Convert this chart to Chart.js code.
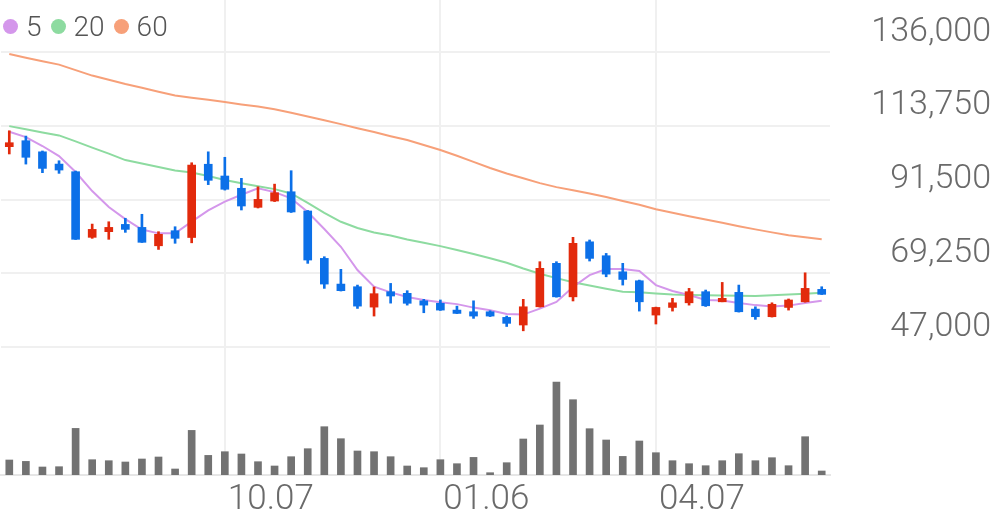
<!DOCTYPE html>
<html>
<head>
<meta charset="utf-8">
<script src="https://cdn.jsdelivr.net/npm/chart.js@4.4.1/dist/chart.umd.min.js"></script>
<style>
  html, body { margin: 0; padding: 0; background: #fff; }
  #wrap { position: relative; width: 996px; height: 519px; }
  #legend {
    position: absolute; left: 3px; top: 10px;
    display: flex; align-items: center;
    font-family: Roboto, sans-serif; font-weight: 300; font-size: 28px; color: #555;
  }
  #legend .item { display: flex; align-items: center; margin-right: 9px; }
  #legend .dot { width: 15px; height: 15px; border-radius: 50%; margin-right: 8px; }
</style>
</head>
<body>
<div id="wrap">
  <canvas id="chart" width="996" height="519"></canvas>
  <div id="legend"></div>
</div>
<script>
// ---------- data (weekly candles) ----------
const weeks = [
  '07.08','07.15','07.22','07.29','08.05','08.12','08.19','08.26','09.02','09.09',
  '09.16','09.23','09.30','10.07','10.14','10.21','10.28','11.04','11.11','11.18',
  '11.25','12.02','12.09','12.16','12.23','12.30','01.06','01.13','01.20','01.27',
  '02.03','02.10','02.17','02.24','03.03','03.10','03.17','03.24','03.31','04.07',
  '04.14','04.21','04.28','05.05','05.12','05.19','05.26','06.02','06.09','06.16'
];
const openPrices = [
  107450,109250,105900,102200,99900,80100,81800,84000,83100,77550,
  82100,80050,102150,98600,94900,89150,91050,93850,88050,73750,
  66000,65200,59050,63700,63200,60950,60200,58150,57650,57650,
  55950,53650,59150,72250,62150,78750,74550,69700,67000,56650,
  58950,60350,63700,60650,63500,58450,56150,58950,60650,64400
];
const highPrices = [
  112250,110650,106150,103200,100100,84100,84800,85850,87050,81800,
  83300,102600,105900,104250,97900,95350,96150,100200,88200,74250,
  70450,65700,65100,66200,64000,61400,61200,59350,60950,57950,
  56350,61400,72750,72750,80100,79300,75250,72250,67200,59050,
  61700,64700,64200,66500,65700,59150,60350,61500,69400,65200
];
const lowPrices = [
  105250,102200,99600,99400,79450,79800,79500,81600,78550,76450,
  78300,78450,96000,94350,88350,88950,90900,87600,72250,64700,
  63900,58650,56350,60250,59650,57350,58050,57100,55650,56200,
  53200,51900,59050,62050,60900,72950,68200,65700,57850,53950,
  57850,59650,59250,60650,57550,55350,56050,58150,60550,62850
];
const closePrices = [
  108650,104250,100900,100400,79500,82500,83100,82500,78600,81000,
  79800,101900,97300,94600,89550,91550,93550,87750,73250,66000,
  64000,59350,63100,62400,60200,59650,58150,57150,56350,56350,
  54150,59150,70750,62150,78300,73750,69000,67400,60650,58950,
  60350,63700,59450,61700,57650,56150,59900,61200,64700,62900
];
const volumes = [
  300000,272000,160000,166000,932000,306000,286000,260000,320000,360000,
  120000,892000,392000,466000,420000,266000,180000,366000,526000,966000,
  726000,480000,466000,366000,180000,146000,306000,226000,352000,46000,
  246000,720000,1000000,1860000,1506000,926000,700000,372000,680000,446000,
  286000,226000,186000,286000,426000,286000,346000,186000,766000,80000
];
const ma5 = [
  111950,110350,107650,104600,99800,94050,89250,85600,82450,81300,
  81300,84850,88250,90850,92950,94900,93750,91850,87750,82600,
  77250,70250,65200,63500,62100,61200,60500,59950,58900,58100,
  56950,56800,58600,60600,65100,68700,70550,70550,69950,65700,
  63900,62700,61200,61050,60300,59650,59200,59500,60300,60950
];
const ma20 = [
  113650,112700,111750,110850,109050,107150,105350,103400,102400,101300,
  100250,99650,98600,97400,96400,95500,94650,93350,90500,87500,
  84800,82900,81550,80650,79450,78450,77450,76300,75050,73800,
  72450,70700,69100,67800,66550,65600,64600,63700,63500,63150,
  62850,62700,62600,62550,62450,62400,62650,62850,63100,63400
];
const ma60 = [
  135400,134300,133250,132200,130550,128900,127650,126350,125200,124000,
  122900,122200,121600,120950,120200,119550,118750,117700,116550,115400,
  114250,113000,111850,110600,109450,107950,106450,104700,102850,101000,
  99350,97900,96450,95250,94300,93350,92250,91050,89950,88600,
  87500,86450,85450,84500,83450,82500,81600,80700,80100,79500
];
const priceTicks = [47000, 69250, 91500, 113750, 136000];
const dateTicks = ['10.07', '01.06', '04.07'];

// ---------- styles ----------
const UP = '#e22a0c';
const DOWN = '#0c70e8';
const GRID = '#f0f0f0';
const LABEL_COLOR = '#6a6a6a';

const candleColors = closePrices.map((c, i) => c >= openPrices[i] ? UP : DOWN);

const maSets = [
  { label: '5', data: ma5, color: '#d497eb' },
  { label: '20', data: ma20, color: '#8ddba0' },
  { label: '60', data: ma60, color: '#f7a079' }
];

// html legend
document.getElementById('legend').innerHTML = maSets.map(m =>
  `<span class="item"><span class="dot" style="background:${m.color}"></span>${m.label}</span>`
).join('');

const datasets = [
  {
    type: 'bar', label: 'body',
    data: openPrices.map((o, i) => [o, closePrices[i]]),
    backgroundColor: candleColors, barThickness: 8, minBarLength: 2,
    grouped: false, yAxisID: 'y', order: 0
  },
  {
    type: 'bar', label: 'wick',
    data: lowPrices.map((l, i) => [l, highPrices[i]]),
    backgroundColor: candleColors, barThickness: 2,
    grouped: false, yAxisID: 'y', order: 1
  },
  ...maSets.map(m => ({
    type: 'line', label: m.label, data: m.data,
    borderColor: m.color, borderWidth: 2, pointRadius: 0,
    tension: 0, yAxisID: 'y', order: 2
  })),
  {
    type: 'bar', label: 'volume', data: volumes,
    backgroundColor: '#727272', barThickness: 7,
    grouped: false, yAxisID: 'vol', order: 3
  }
];

new Chart(document.getElementById('chart'), {
  data: { labels: weeks, datasets },
  options: {
    responsive: false,
    animation: false,
    layout: { padding: { left: 1, top: 0, right: 5, bottom: 0 } },
    plugins: { legend: { display: false }, tooltip: { enabled: false } },
    scales: {
      x: {
        type: 'category',
        offset: true,
        grid: { offset: false, color: GRID, lineWidth: 2, drawTicks: false },
        border: { color: '#e6e6e6', width: 2 },
        afterBuildTicks: s => { s.ticks = s.ticks.filter(t => dateTicks.includes(weeks[t.value])); },
        afterFit: s => { s.height = 44; s.paddingLeft = 0; s.paddingRight = 0; },
        ticks: {
          autoSkip: false, maxRotation: 0, align: 'start', labelOffset: 3,
          padding: 4, color: LABEL_COLOR,
          font: { family: 'Roboto', weight: '300', size: 35 }
        }
      },
      y: {
        position: 'right',
        min: 8400, max: 151700,
        afterBuildTicks: s => { s.ticks = priceTicks.map(v => ({ value: v })); },
        afterFit: s => { s.width = 161; s.paddingTop = 0; s.paddingBottom = 0; },
        grid: { color: GRID, lineWidth: 2, drawTicks: false },
        border: { display: false },
        ticks: {
          crossAlign: 'far', padding: 10, labelOffset: -20,
          color: LABEL_COLOR,
          font: { family: 'Roboto', weight: '300', size: 34 },
          callback: v => v.toLocaleString('en-US')
        }
      },
      vol: {
        display: false,
        min: 0, max: 9500000
      }
    }
  }
});
</script>
</body>
</html>
